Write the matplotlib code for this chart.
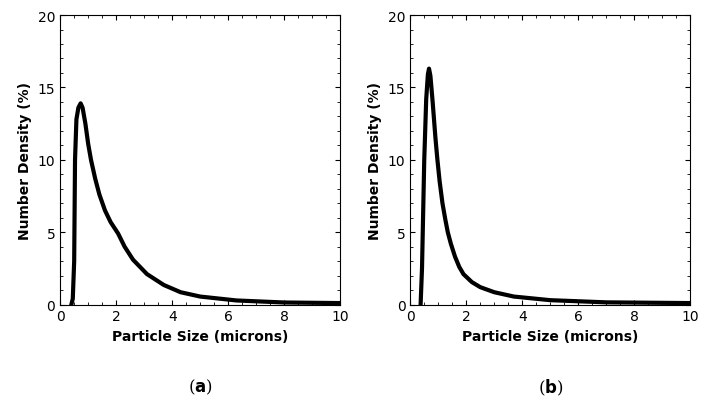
import matplotlib.pyplot as plt
from matplotlib.ticker import MultipleLocator

# values
size_a = [0.40, 0.45, 0.50, 0.53, 0.58, 0.65, 0.73, 0.80, 0.90, 1.00, 1.10, 1.25, 1.40, 1.60, 1.80, 2.07, 2.30, 2.60, 3.10, 3.70, 4.30, 5.00, 6.30, 8.00, 10.0]
dens_a = [0.0, 0.4, 3.0, 10.0, 12.8, 13.6, 13.9, 13.6, 12.5, 11.1, 10.0, 8.7, 7.6, 6.5, 5.7, 4.9, 4.0, 3.1, 2.1, 1.35, 0.85, 0.55, 0.28, 0.14, 0.1]
size_b = [0.37, 0.42, 0.50, 0.57, 0.63, 0.67, 0.72, 0.80, 0.90, 0.97, 1.05, 1.15, 1.25, 1.34, 1.45, 1.60, 1.75, 1.90, 2.20, 2.50, 3.00, 3.70, 5.00, 7.00, 10.0]
dens_b = [0.0, 2.5, 10.0, 14.2, 15.9, 16.3, 15.8, 14.0, 11.5, 10.0, 8.5, 7.0, 5.9, 5.0, 4.2, 3.3, 2.6, 2.1, 1.55, 1.2, 0.85, 0.55, 0.3, 0.15, 0.1]

fig, axes = plt.subplots(1, 2, figsize=(7.08, 4.02), dpi=100)
for ax, x, y, tag in [(axes[0], size_a, dens_a, 'a'), (axes[1], size_b, dens_b, 'b')]:
    ax.plot(x, y, color='black', lw=3, solid_joinstyle='round')
    ax.set_xlim(0, 10)
    ax.set_ylim(0, 20)
    ax.xaxis.set_major_locator(MultipleLocator(2))
    ax.xaxis.set_minor_locator(MultipleLocator(0.5))
    ax.yaxis.set_major_locator(MultipleLocator(5))
    ax.yaxis.set_minor_locator(MultipleLocator(1))
    ax.tick_params(which='both', direction='in', top=True, right=True, labelsize=10)
    ax.set_xlabel('Particle Size (microns)', fontweight='bold', fontsize=10)
    ax.set_ylabel('Number Density (%)', fontweight='bold', fontsize=10)
    ax.text(0.5, -0.25, '(' + r'$\mathbf{' + tag + '}$' + ')', transform=ax.transAxes,
            ha='center', va='top', fontsize=12, family='DejaVu Serif')

plt.subplots_adjust(left=0.085, right=0.975, top=0.96, bottom=0.24, wspace=0.25)
fig.savefig('out.png')
